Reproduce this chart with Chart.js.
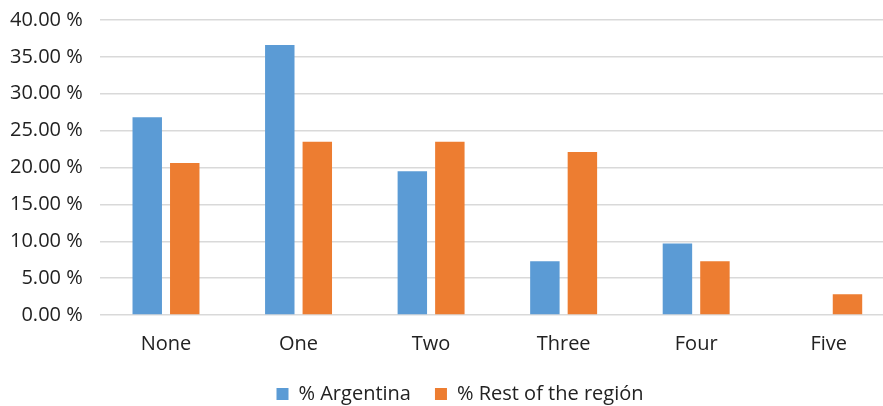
<!DOCTYPE html>
<html lang="en">
<head>
    <meta charset="UTF-8">
    <title>Argentina vs Rest of the region</title>
    <script src="https://cdn.jsdelivr.net/npm/chart.js"></script>
    <style>
        body {
            margin: 0;
            background: #fff;
            overflow: hidden;
        }

        #wrap {
            width: 922px;
            height: 415px;
            margin-top: -9px;
        }
    </style>
</head>
<body>
    <div id="wrap"><canvas id="chart"></canvas></div>

    <script>
        // Data
        const categories = ['None', 'One', 'Two', 'Three', 'Four', 'Five'];
        const argentina = [26.8, 36.6, 19.5, 7.3, 9.7, 0];
        const restOfRegion = [20.6, 23.5, 23.5, 22.1, 7.3, 2.8];

        const font = { family: '"Open Sans", sans-serif', size: 20 };

        // nudge the legend to the right so it sits under the middle of the figure
        const legendShift = {
            id: 'legendShift',
            afterLayout(chart) {
                chart.legend.left += 16;
                chart.legend.right += 16;
            }
        };

        const ctx = document.getElementById('chart').getContext('2d');
        new Chart(ctx, {
            type: 'bar',
            data: {
                labels: categories,
                datasets: [
                    {
                        label: '% Argentina',
                        data: argentina,
                        backgroundColor: '#5B9BD5',
                        categoryPercentage: 0.566,
                        barPercentage: 0.785
                    },
                    {
                        label: '% Rest of the región',
                        data: restOfRegion,
                        backgroundColor: '#ED7D31',
                        categoryPercentage: 0.566,
                        barPercentage: 0.785
                    }
                ]
            },
            options: {
                responsive: true,
                maintainAspectRatio: false,
                animation: false,
                layout: {
                    padding: { left: -7, right: 27, top: 0, bottom: -8 }
                },
                scales: {
                    x: {
                        grid: { display: false },
                        border: { display: false },
                        ticks: { color: '#222', font: font, padding: 9 },
                        // give the plot more room, labels move down with it
                        afterFit: function(scale) {
                            scale.height -= 5;
                        }
                    },
                    y: {
                        min: 0,
                        max: 40,
                        ticks: {
                            stepSize: 5,
                            color: '#222',
                            font: font,
                            padding: 17,
                            callback: function(value) {
                                return value.toFixed(2) + ' %';
                            }
                        },
                        grid: { color: '#d9d9d9', lineWidth: 1.5, drawTicks: false },
                        border: { display: false }
                    }
                },
                plugins: {
                    legend: {
                        position: 'bottom',
                        labels: {
                            color: '#222',
                            font: font,
                            boxWidth: 12,
                            boxHeight: 12,
                            padding: 24
                        }
                    },
                    tooltip: { enabled: false }
                }
            },
            plugins: [legendShift]
        });
    </script>
</body>
</html>
